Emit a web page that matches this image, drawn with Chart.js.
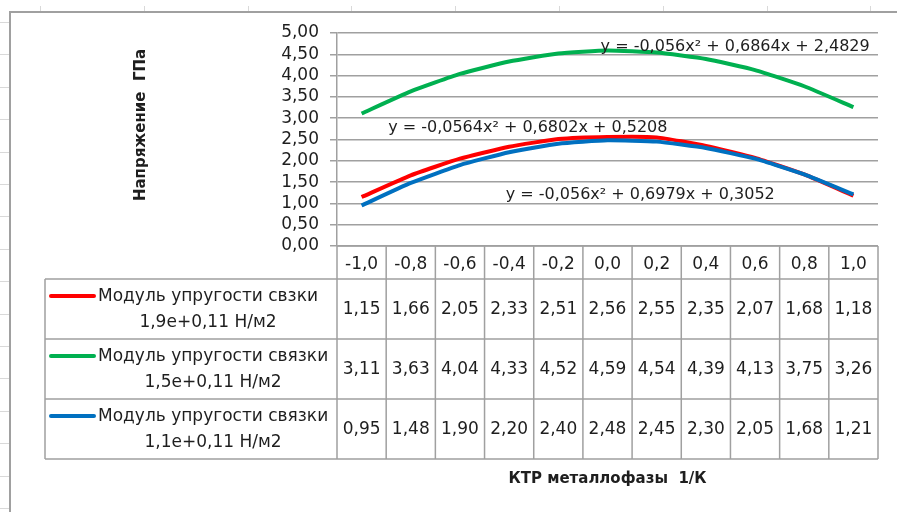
<!DOCTYPE html>
<html>
<head>
<meta charset="utf-8">
<script src="https://cdn.jsdelivr.net/npm/chart.js@4.4.0/dist/chart.umd.min.js"></script>
<style>
  html, body { margin: 0; padding: 0; background: #fff; }
  #wrap { width: 897px; height: 512px; }
  canvas { display: block; }
</style>
</head>
<body>
<div id="wrap"><canvas id="chart"></canvas></div>
<script>
// data
var categories = ['-1,0', '-0,8', '-0,6', '-0,4', '-0,2', '0,0', '0,2', '0,4', '0,6', '0,8', '1,0'];
var redValues   = [1.15, 1.66, 2.05, 2.33, 2.51, 2.56, 2.55, 2.35, 2.07, 1.68, 1.18];
var greenValues = [3.11, 3.63, 4.04, 4.33, 4.52, 4.59, 4.54, 4.39, 4.13, 3.75, 3.26];
var blueValues  = [0.95, 1.48, 1.90, 2.20, 2.40, 2.48, 2.45, 2.30, 2.05, 1.68, 1.21];
var seriesNames = [
    ['Модуль упругости свзки', '1,9e+0,11 Н/м2'],
    ['Модуль упругости связки', '1,5e+0,11 Н/м2'],
    ['Модуль упругости связки', '1,1e+0,11 Н/м2']
];
var trendLabels = [
    'y = -0,0564x² + 0,6802x + 0,5208',
    'y = -0,056x² + 0,6864x + 2,4829',
    'y = -0,056x² + 0,6979x + 0,3052'
];
var yMin = 0, yMax = 5, yStep = 0.5;
var xTitle = 'КТР металлофазы  1/К';
var yTitle = 'Напряжение  ГПа';

var seriesColors = ['#ff0000', '#00b050', '#0070c0'];
var seriesValues = [redValues, greenValues, blueValues];
var FONT = "'DejaVu Sans', Verdana, sans-serif";
var TEXT = '#1e1e1e';
var GRID = '#a0a0a0';

// where the trendline equations sit, in data units (category index, value)
var trendPos = [
    { x: 0.54, y: 2.77 },
    { x: 4.86, y: 4.67 },
    { x: 2.93, y: 1.20 }
];

function fmt(v) { return v.toFixed(2).replace('.', ','); }

var sheetPlugin = {
    id: 'sheet',
    beforeDraw: function (chart) {
        var ctx = chart.ctx;
        ctx.save();
        ctx.fillStyle = '#fff';
        ctx.fillRect(0, 0, chart.width, chart.height);
        // faint worksheet cell marks around the chart object
        ctx.strokeStyle = '#d9d9d9';
        ctx.lineWidth = 1;
        for (var x = 40; x < chart.width; x += 103.8) {
            ctx.beginPath(); ctx.moveTo(Math.round(x) + 0.5, 6); ctx.lineTo(Math.round(x) + 0.5, 11); ctx.stroke();
        }
        for (var y = 22; y < chart.height; y += 32.4) {
            ctx.beginPath(); ctx.moveTo(0, Math.round(y) + 0.5); ctx.lineTo(9, Math.round(y) + 0.5); ctx.stroke();
        }
        // chart object frame
        ctx.strokeStyle = '#a0a0a0';
        ctx.lineWidth = 2;
        ctx.beginPath();
        ctx.moveTo(10, chart.height);
        ctx.lineTo(10, 12);
        ctx.lineTo(chart.width, 12);
        ctx.stroke();
        ctx.restore();
    }
};

var tablePlugin = {
    id: 'dataTable',
    afterDraw: function (chart) {
        var ctx = chart.ctx;
        var xs = chart.scales.x, ys = chart.scales.y;
        var area = chart.chartArea;
        var n = categories.length;
        var step = xs.getPixelForValue(1) - xs.getPixelForValue(0);
        var left = xs.getPixelForValue(0) - step / 2;
        var right = xs.getPixelForValue(n - 1) + step / 2;
        var top = area.bottom;
        var headH = 33, rowH = 60;
        var bottom = top + headH + rowH * seriesValues.length;
        var legendLeft = 45;

        ctx.save();
        ctx.strokeStyle = GRID;
        ctx.lineWidth = 1.5;
        // horizontal rules
        ctx.beginPath();
        ctx.moveTo(left, top); ctx.lineTo(right, top);
        for (var r = 0; r <= seriesValues.length; r++) {
            var yy = top + headH + r * rowH;
            ctx.moveTo(legendLeft, yy); ctx.lineTo(right, yy);
        }
        // vertical rules
        for (var c = 0; c <= n; c++) {
            var xx = left + c * step;
            ctx.moveTo(xx, top); ctx.lineTo(xx, bottom);
        }
        ctx.moveTo(legendLeft, top + headH); ctx.lineTo(legendLeft, bottom);
        ctx.stroke();

        // values
        ctx.fillStyle = TEXT;
        ctx.font = '17px ' + FONT;
        ctx.textAlign = 'center';
        ctx.textBaseline = 'middle';
        seriesValues.forEach(function (vals, s) {
            var cy = top + headH + rowH * (s + 0.5);
            vals.forEach(function (v, i) {
                ctx.fillText(fmt(v), xs.getPixelForValue(i), cy + 1);
            });
            // legend key + name
            var l1 = seriesNames[s][0], l2 = seriesNames[s][1];
            var tx = 98;
            var w1 = ctx.measureText(l1).width;
            ctx.strokeStyle = seriesColors[s];
            ctx.lineWidth = 4;
            ctx.lineCap = 'round';
            ctx.beginPath();
            ctx.moveTo(51, cy - 13); ctx.lineTo(94, cy - 13);
            ctx.stroke();
            ctx.textAlign = 'left';
            ctx.fillText(l1, tx, cy - 12);
            ctx.textAlign = 'center';
            ctx.fillText(l2, tx + w1 / 2, cy + 14);
        });

        // trendline equations
        ctx.font = '16px ' + FONT;
        ctx.textAlign = 'left';
        trendLabels.forEach(function (t, s) {
            ctx.fillText(t, xs.getPixelForValue(trendPos[s].x), ys.getPixelForValue(trendPos[s].y));
        });

        // vertical axis title
        ctx.font = 'bold 15px ' + FONT;
        ctx.textAlign = 'center';
        ctx.translate(141, 125);
        ctx.rotate(-Math.PI / 2);
        ctx.fillText(yTitle, 0, 0);
        ctx.restore();
    }
};

var datasets = seriesValues.map(function (vals, s) {
    return {
        label: seriesNames[s].join(' '),
        data: vals,
        borderColor: seriesColors[s],
        backgroundColor: seriesColors[s],
        borderWidth: 4,
        pointRadius: 0,
        tension: 0.15,
        fill: false,
        order: 3 - s
    };
});

new Chart(document.getElementById('chart'), {
    type: 'line',
    data: { labels: categories, datasets: datasets },
    options: {
        responsive: true,
        maintainAspectRatio: false,
        animation: false,
        layout: { padding: { left: 0, top: 33, right: 19, bottom: 24 } },
        plugins: {
            legend: { display: false },
            tooltip: { enabled: false }
        },
        scales: {
            x: {
                offset: true,
                grid: { display: false },
                border: { display: false },
                ticks: {
                    color: TEXT,
                    font: { family: FONT, size: 17 },
                    padding: 0,
                    maxRotation: 0,
                    autoSkip: false
                },
                title: {
                    display: true,
                    text: xTitle,
                    color: TEXT,
                    font: { family: FONT, size: 15, weight: 'bold' },
                    padding: 0
                },
                afterFit: function (scale) { scale.height = 242; }
            },
            y: {
                min: yMin,
                max: yMax,
                ticks: {
                    stepSize: yStep,
                    autoSkip: false,
                    color: TEXT,
                    font: { family: FONT, size: 17 },
                    padding: 11,
                    callback: function (v) { return fmt(v); }
                },
                grid: { color: GRID, lineWidth: 1.5, tickLength: 7 },
                border: { color: GRID, width: 1.5 },
                afterFit: function (scale) { scale.width = 337; }
            }
        }
    },
    plugins: [sheetPlugin, tablePlugin]
});
</script>
</body>
</html>
